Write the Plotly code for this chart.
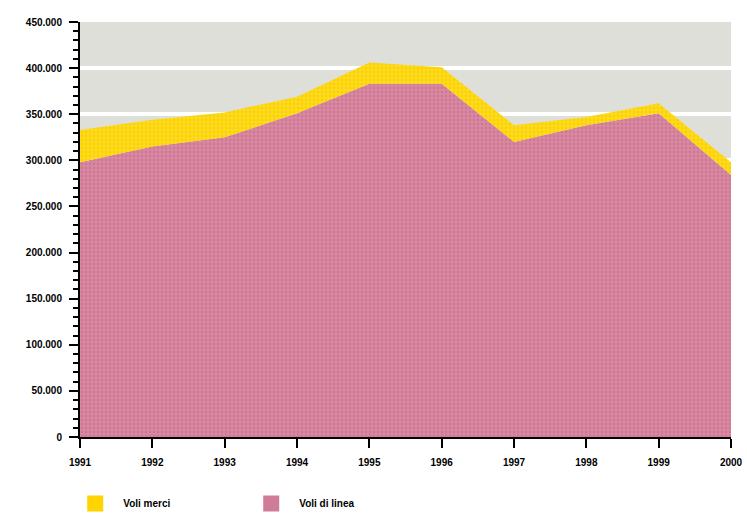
import plotly.graph_objects as go

# Data (passengers / flights per year)
years = [1991, 1992, 1993, 1994, 1995, 1996, 1997, 1998, 1999, 2000]
voli_di_linea = [298000, 315000, 325000, 351000, 383000, 383000, 320000, 338000, 351000, 284000]
voli_merci = [35000, 29000, 27000, 18000, 23000, 18000, 18000, 9000, 11000, 14000]

y_ticks = list(range(0, 450001, 50000))

PINK = "#cf7c96"
YELLOW = "#ffd400"

fig = go.Figure()

# stacked areas: pink at the bottom, yellow on top
fig.add_trace(go.Scatter(
    x=years, y=voli_di_linea, name="Voli di linea",
    stackgroup="one", mode="none", showlegend=False,
    fillcolor=PINK,
    fillpattern=dict(shape=".", fgcolor="#c2638a", bgcolor="#d98aa0", size=4, solidity=0.4),
))
fig.add_trace(go.Scatter(
    x=years, y=voli_merci, name="Voli merci",
    stackgroup="one", mode="none", showlegend=False,
    fillcolor=YELLOW,
    fillpattern=dict(shape=".", fgcolor="#f2c200", bgcolor="#ffdc1a", size=4, solidity=0.4),
))

# legend entries with square swatches like the original
for name, col in [("Voli merci", YELLOW), ("Voli di linea", PINK)]:
    fig.add_trace(go.Scatter(
        x=[None], y=[None], mode="markers", name=name,
        marker=dict(symbol="square", size=20, color=col),
    ))

fig.update_layout(
    width=747, height=518,
    margin=dict(l=80, r=16, t=22, b=81),
    paper_bgcolor="white",
    plot_bgcolor="#dedfd8",
    separators=",.",
    font=dict(family="Liberation Sans, Arial", size=10, color="black"),
    showlegend=True,
    legend=dict(
        orientation="h", x=0.09, y=-0.02, xref="container", yref="container",
        xanchor="left", yanchor="bottom",
        traceorder="normal",
        itemwidth=46, itemsizing="trace",
        entrywidth=115, entrywidthmode="pixels",
        font=dict(size=10, family="Liberation Sans, Arial", weight="bold"),
    ),
)

fig.update_xaxes(
    range=[1991, 2000], tickvals=years, ticktext=[str(y) for y in years],
    showgrid=False, zeroline=False, automargin=False,
    showline=True, linecolor="black", linewidth=2,
    ticks="outside", ticklen=9, tickwidth=2, tickcolor="black",
    ticklabelstandoff=6,
    tickfont=dict(size=10, weight="bold"),
)
fig.update_yaxes(
    range=[0, 450000], tickvals=y_ticks, tickformat=",d",
    showgrid=True, gridcolor="white", gridwidth=4, zeroline=False, automargin=False,
    showline=True, linecolor="black", linewidth=2,
    ticks="outside", ticklen=9, tickwidth=2, tickcolor="black",
    ticklabelstandoff=5,
    tickfont=dict(size=10, weight="bold"),
    minor=dict(dtick=10000, ticks="outside", ticklen=5, tickwidth=2, tickcolor="black", showgrid=False),
)

fig.write_html("out.html", config={"displayModeBar": False},
               post_script="document.body.style.margin='0';")
